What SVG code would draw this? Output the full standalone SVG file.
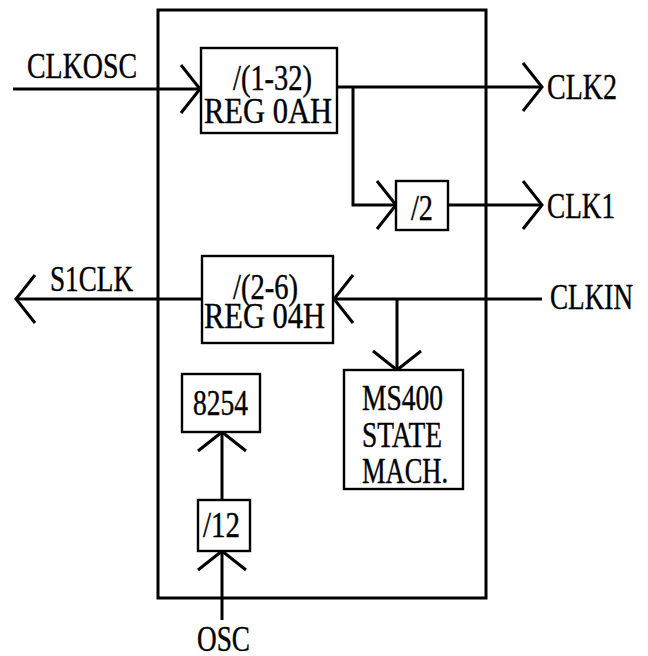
<svg xmlns="http://www.w3.org/2000/svg" width="648" height="656" viewBox="0 0 648 656">
<style>
.t{font-family:"Liberation Serif","Times New Roman",serif;font-size:35px;fill:#000;stroke:#000;stroke-width:0.4}
.b{fill:#fff;stroke:#000;stroke-width:2.4}
.c{fill:none;stroke:#000;stroke-width:3}
</style>
<defs>
<marker id="arr" markerUnits="userSpaceOnUse" markerWidth="30" markerHeight="56" viewBox="-3 -3 30 56" refX="19" refY="24" orient="auto">
<path d="M0,0 L19,24 L0,48" fill="none" stroke="#000" stroke-width="3"/>
</marker>
</defs>
<rect width="648" height="656" fill="#fff"/>
<g id="chip"><rect x="158" y="10" width="328" height="588" fill="none" stroke="#000" stroke-width="3"/></g>
<g id="connectors">
<path class="c" d="M13,89 H200" marker-end="url(#arr)"/>
<path class="c" d="M337,87 H542" marker-end="url(#arr)"/>
<path class="c" d="M353,87 V205 H396" marker-end="url(#arr)"/>
<path class="c" d="M448,205 H542" marker-end="url(#arr)"/>
<path class="c" d="M202,299 H16" marker-end="url(#arr)"/>
<path class="c" d="M542,299 H334" marker-end="url(#arr)"/>
<path class="c" d="M397,299 V370" marker-end="url(#arr)"/>
<path class="c" d="M222,500 V432" marker-end="url(#arr)"/>
<path class="c" d="M222,620 V551" marker-end="url(#arr)"/>
</g>
<g id="reg0ah">
<rect class="b" x="201" y="48" width="136" height="85"/>
<text class="t" x="233" y="90" textLength="79" lengthAdjust="spacingAndGlyphs">/(1-32)</text>
<text class="t" x="204" y="123" textLength="128" lengthAdjust="spacingAndGlyphs">REG 0AH</text>
</g>
<g id="div2">
<rect class="b" x="396" y="181" width="52" height="49"/>
<text class="t" x="411" y="220" textLength="22" lengthAdjust="spacingAndGlyphs">/2</text>
</g>
<g id="reg04h">
<rect class="b" x="202" y="256" width="131" height="87"/>
<text class="t" x="233" y="299" textLength="65" lengthAdjust="spacingAndGlyphs">/(2-6)</text>
<text class="t" x="204" y="328" textLength="121" lengthAdjust="spacingAndGlyphs">REG 04H</text>
</g>
<g id="n8254">
<rect class="b" x="182" y="374" width="78" height="58"/>
<text class="t" x="193" y="415" textLength="55" lengthAdjust="spacingAndGlyphs">8254</text>
</g>
<g id="ms400">
<rect class="b" x="344" y="370" width="119" height="119"/>
<text class="t" x="362" y="410" textLength="81" lengthAdjust="spacingAndGlyphs">MS400</text>
<text class="t" x="362" y="447" textLength="80" lengthAdjust="spacingAndGlyphs">STATE</text>
<text class="t" x="362" y="483" textLength="86" lengthAdjust="spacingAndGlyphs">MACH.</text>
</g>
<g id="div12">
<rect class="b" x="198" y="500" width="52" height="51"/>
<text class="t" x="203" y="537" textLength="37" lengthAdjust="spacingAndGlyphs">/12</text>
</g>
<g id="labels">
<text class="t" x="27" y="78" textLength="110" lengthAdjust="spacingAndGlyphs">CLKOSC</text>
<text class="t" x="547" y="99" textLength="70" lengthAdjust="spacingAndGlyphs">CLK2</text>
<text class="t" x="547" y="218" textLength="68" lengthAdjust="spacingAndGlyphs">CLK1</text>
<text class="t" x="50" y="291" textLength="83" lengthAdjust="spacingAndGlyphs">S1CLK</text>
<text class="t" x="550" y="309" textLength="83" lengthAdjust="spacingAndGlyphs">CLKIN</text>
<text class="t" x="197" y="651" textLength="53" lengthAdjust="spacingAndGlyphs">OSC</text>
</g>
</svg>
